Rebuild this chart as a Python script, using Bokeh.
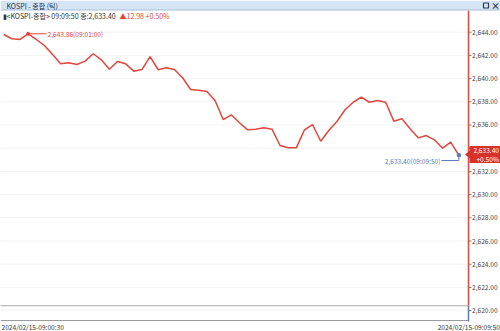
from bokeh.plotting import figure
from bokeh.models import Range1d, ColumnDataSource
from bokeh.core.properties import value
from bokeh.embed import file_html
from bokeh.resources import INLINE

# ---- data (tick chart, KOSPI 2024/02/15) ----
times = ["09:00:30", "09:00:40", "09:00:50", "09:01:00", "09:01:10", "09:01:20", "09:01:30", "09:01:40",
         "09:01:50", "09:02:00", "09:02:10", "09:02:20", "09:02:30", "09:02:40", "09:02:50", "09:03:00",
         "09:03:10", "09:03:20", "09:03:30", "09:03:40", "09:03:50", "09:04:00", "09:04:10", "09:04:20",
         "09:04:30", "09:04:40", "09:04:50", "09:05:00", "09:05:10", "09:05:20", "09:05:30", "09:05:40",
         "09:05:50", "09:06:00", "09:06:10", "09:06:20", "09:06:30", "09:06:40", "09:06:50", "09:07:00",
         "09:07:10", "09:07:20", "09:07:30", "09:07:40", "09:07:50", "09:08:00", "09:08:10", "09:08:20",
         "09:08:30", "09:08:40", "09:08:50", "09:09:00", "09:09:10", "09:09:20", "09:09:30", "09:09:40",
         "09:09:50"]
prices = [2643.80, 2643.43, 2643.37, 2643.86, 2643.37, 2642.85, 2642.08, 2641.27,
          2641.36, 2641.21, 2641.50, 2642.14, 2641.62, 2640.81, 2641.47, 2641.27,
          2640.64, 2640.78, 2641.90, 2640.76, 2640.93, 2640.78, 2640.07, 2639.06,
          2639.00, 2638.89, 2638.11, 2636.47, 2636.88, 2636.19, 2635.58, 2635.64,
          2635.76, 2635.64, 2634.23, 2634.03, 2634.03, 2635.58, 2636.04, 2634.60,
          2635.52, 2636.30, 2637.31, 2637.96, 2638.41, 2637.96, 2638.11, 2637.96,
          2636.33, 2636.53, 2635.67, 2634.89, 2635.09, 2634.72, 2634.00, 2634.52,
          2633.40]
prev_close = 2620.42
change = 12.98
change_pct = "+0.50%"
high_price, high_time = 2643.86, "09:01:00"
last_price, last_time = 2633.40, "09:09:50"
y_ticks = [2620, 2622, 2624, 2626, 2628, 2630, 2632, 2634, 2636, 2638, 2640, 2642, 2644]
start_label = "2024/02/15-09:00:30"
end_label = "2024/02/15-09:09:50"


def to_sec(s):
    h, m, sec = s.split(":")
    return int(m) * 60 + int(sec)


secs = [to_sec(t) for t in times]

W, H = 500, 331
X0, X1 = 25.94, 641.3
Y0, Y1 = 2618.20, 2646.73


def px2x(px):
    return X0 + px / W * (X1 - X0)


def py2y(py):
    return Y1 - py / H * (Y1 - Y0)


FONT = value("Noto Sans CJK KR")
SMALL = value("6.6px")
RED = "#e2463c"
BLUE = "#5a7cb8"

p = figure(width=W, height=H, x_range=Range1d(X0, X1), y_range=Range1d(Y0, Y1),
           output_backend="svg", toolbar_location=None, min_border=0,
           x_axis_location=None, y_axis_location=None)
p.grid.visible = False
p.outline_line_color = None
p.background_fill_color = "white"
p.border_fill_color = "white"

axis_x = px2x(468)
left_x = px2x(0)

# horizontal grid lines
p.segment(x0=[left_x] * len(y_ticks), y0=y_ticks, x1=[axis_x] * len(y_ticks), y1=y_ticks,
          line_color="#e6e6e6", line_width=1, line_dash="1 1")
# previous close dotted line
p.segment(x0=[left_x], y0=[prev_close], x1=[axis_x], y1=[prev_close],
          line_color="#555555", line_width=1, line_dash="1 1")

# price line
src = ColumnDataSource(dict(x=secs, y=prices))
p.line("x", "y", source=src, line_color=RED, line_width=1.5)

# high annotation
hx = to_sec(high_time)
p.segment(x0=[hx], y0=[high_price], x1=[px2x(46)], y1=[high_price], line_color=RED, line_width=1)
p.scatter([hx], [high_price], size=3, color=RED)
p.text(x=[px2x(47)], y=[high_price], text=[f"{high_price:,.2f}({high_time})"],
       text_font=FONT, text_font_size=SMALL, text_color=RED,
       text_baseline="middle", text_align="left")

# last annotation
lx = to_sec(last_time)
ann_y = py2y(160)
p.segment(x0=[px2x(441), lx], y0=[ann_y, ann_y], x1=[lx, lx], y1=[ann_y, last_price],
          line_color=BLUE, line_width=1)
p.scatter([lx], [last_price], marker="square", size=3, color=BLUE)
p.text(x=[px2x(440)], y=[ann_y], text=[f"{last_price:,.2f}({last_time})"],
       text_font=FONT, text_font_size=SMALL, text_color=BLUE,
       text_baseline="middle", text_align="right")

# bottom border line
p.segment(x0=[left_x], y0=[py2y(320)], x1=[axis_x], y1=[py2y(320)], line_color="#9a9a9a", line_width=1.2)

# right axis line: red above previous close, blue below
p.segment(x0=[axis_x, axis_x], y0=[py2y(10), prev_close], x1=[axis_x, axis_x], y1=[prev_close, py2y(321)],
          line_color=[RED, BLUE], line_width=1.5)
# tick marks & labels
p.segment(x0=[axis_x] * len(y_ticks), y0=y_ticks, x1=[px2x(471)] * len(y_ticks), y1=y_ticks,
          line_color="#777777", line_width=1)
p.text(x=[px2x(471.5)] * len(y_ticks), y=y_ticks, text=[f"{v:,.2f}" for v in y_ticks],
       text_font=FONT, text_font_size=SMALL, text_color="#444444",
       text_baseline="middle", text_align="left")

# last price box on the axis
p.quad(left=[px2x(469)], right=[px2x(500)], top=[py2y(145.5)], bottom=[py2y(162.5)],
       fill_color="#d8312a", line_color=None)
p.patch(x=[px2x(464.5), px2x(469.5), px2x(469.5)], y=[py2y(154), py2y(150), py2y(158)],
        fill_color="#d8312a", line_color=None)
p.text(x=[px2x(498.5), px2x(498.5)], y=[py2y(150), py2y(158)],
       text=[f"{last_price:,.2f}", change_pct],
       text_font=FONT, text_font_size=SMALL, text_color="white",
       text_baseline="middle", text_align="right")

# date labels
p.text(x=[px2x(1)], y=[py2y(326)], text=[start_label], text_font=FONT,
       text_font_size=SMALL, text_color="#333333", text_baseline="middle", text_align="left")
p.text(x=[px2x(499.5)], y=[py2y(326)], text=[end_label], text_font=FONT,
       text_font_size=SMALL, text_color="#333333", text_baseline="middle", text_align="right")

# title bar
p.quad(left=[px2x(0)], right=[px2x(500)], top=[py2y(0)], bottom=[py2y(9.5)],
       fill_color="#d6e5f3", line_color=None)
p.segment(x0=[px2x(0)], y0=[py2y(9.5)], x1=[px2x(500)], y1=[py2y(9.5)], line_color="#a8bfd6", line_width=1)
p.text(x=[px2x(6)], y=[py2y(5)], text=["KOSPI - 종합 (틱)"], text_font=FONT,
       text_font_size=value("7px"), text_color="#1f2d4d", text_baseline="middle", text_align="left")
p.quad(left=[px2x(483)], right=[px2x(488)], top=[py2y(2.5)], bottom=[py2y(7.5)],
       fill_color=None, line_color="#2a3a5a", line_width=1.2)
p.text(x=[px2x(495)], y=[py2y(5)], text=["×"], text_font=FONT, text_font_size=value("9px"),
       text_color="#2a3a5a", text_baseline="middle", text_align="center", text_font_style="bold")

# info line
p.text(x=[px2x(2)], y=[py2y(15)],
       text=[f"▮<KOSPI-종합> {last_time} 종:{last_price:,.2f}"],
       text_font=FONT, text_font_size=value("7px"), text_color="#333333",
       text_baseline="middle", text_align="left")
p.text(x=[px2x(119)], y=[py2y(15)], text=[f"▲{change:.2f}  {change_pct}"],
       text_font=FONT, text_font_size=value("7px"), text_color=RED,
       text_baseline="middle", text_align="left")

open("out.html", "w").write(file_html(p, INLINE))
